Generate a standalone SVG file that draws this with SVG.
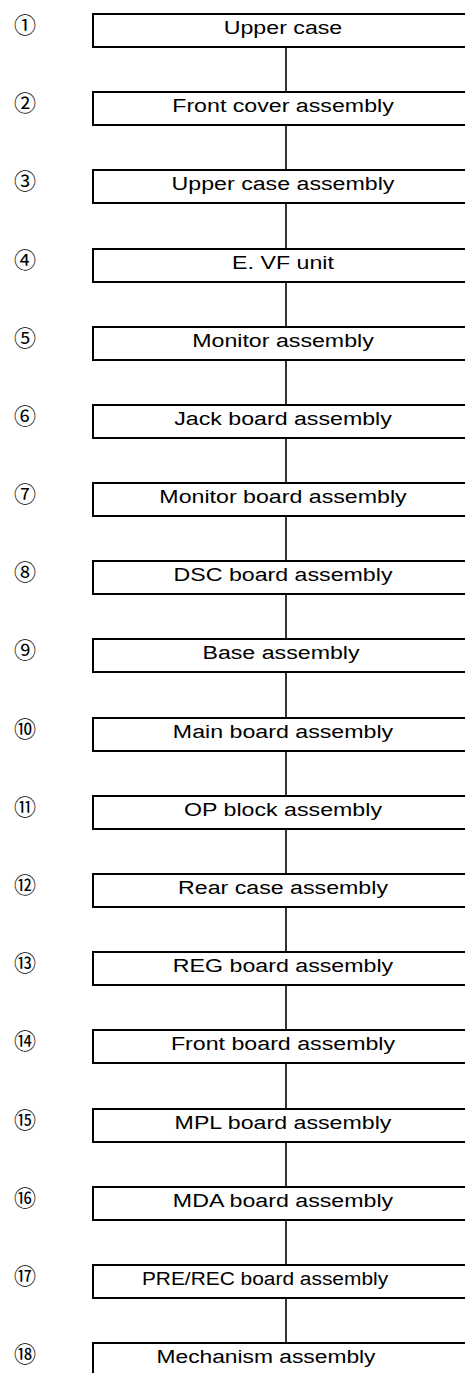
<svg xmlns="http://www.w3.org/2000/svg" width="465" height="1373" viewBox="0 0 465 1373">
<style>
.box{fill:#fff;stroke:#000;stroke-width:2}
.lbl{font-family:"Liberation Sans",Arial,sans-serif;font-size:19px;fill:#000;text-anchor:middle}
.num{font-family:"Noto Sans CJK JP","DejaVu Sans",sans-serif;font-size:22px;fill:#000;text-anchor:middle}
.con{stroke:#000;stroke-width:1.6;fill:none}
</style>
<rect width="465" height="1373" fill="#fff"/>
<g id="connectors">
<line class="con" x1="286" y1="47" x2="286" y2="92"/>
<line class="con" x1="286" y1="125" x2="286" y2="170"/>
<line class="con" x1="286" y1="203" x2="286" y2="249"/>
<line class="con" x1="286" y1="282" x2="286" y2="327"/>
<line class="con" x1="286" y1="360" x2="286" y2="405"/>
<line class="con" x1="286" y1="438" x2="286" y2="483"/>
<line class="con" x1="286" y1="516" x2="286" y2="561"/>
<line class="con" x1="286" y1="594" x2="286" y2="639"/>
<line class="con" x1="286" y1="672" x2="286" y2="718"/>
<line class="con" x1="286" y1="751" x2="286" y2="796"/>
<line class="con" x1="286" y1="829" x2="286" y2="874"/>
<line class="con" x1="286" y1="907" x2="286" y2="952"/>
<line class="con" x1="286" y1="985" x2="286" y2="1030"/>
<line class="con" x1="286" y1="1063" x2="286" y2="1109"/>
<line class="con" x1="286" y1="1142" x2="286" y2="1187"/>
<line class="con" x1="286" y1="1220" x2="286" y2="1265"/>
<line class="con" x1="286" y1="1298" x2="286" y2="1343" stroke-width="2.6"/>
</g>
<g id="n1" transform="translate(0,14)"><text class="num" x="25" y="19">①</text><rect class="box" x="93" y="0" width="380" height="33"/><text class="lbl" transform="translate(283,20) scale(1.22,1)">Upper case</text></g>
<g id="n2" transform="translate(0,92)"><text class="num" x="25" y="19">②</text><rect class="box" x="93" y="0" width="380" height="33"/><text class="lbl" transform="translate(283,20) scale(1.22,1)">Front cover assembly</text></g>
<g id="n3" transform="translate(0,170)"><text class="num" x="25" y="19">③</text><rect class="box" x="93" y="0" width="380" height="33"/><text class="lbl" transform="translate(283,20) scale(1.22,1)">Upper case assembly</text></g>
<g id="n4" transform="translate(0,249)"><text class="num" x="25" y="19">④</text><rect class="box" x="93" y="0" width="380" height="33"/><text class="lbl" transform="translate(283,20) scale(1.22,1)">E. VF unit</text></g>
<g id="n5" transform="translate(0,327)"><text class="num" x="25" y="19">⑤</text><rect class="box" x="93" y="0" width="380" height="33"/><text class="lbl" transform="translate(283,20) scale(1.22,1)">Monitor assembly</text></g>
<g id="n6" transform="translate(0,405)"><text class="num" x="25" y="19">⑥</text><rect class="box" x="93" y="0" width="380" height="33"/><text class="lbl" transform="translate(283,20) scale(1.22,1)">Jack board assembly</text></g>
<g id="n7" transform="translate(0,483)"><text class="num" x="25" y="19">⑦</text><rect class="box" x="93" y="0" width="380" height="33"/><text class="lbl" transform="translate(283,20) scale(1.22,1)">Monitor board assembly</text></g>
<g id="n8" transform="translate(0,561)"><text class="num" x="25" y="19">⑧</text><rect class="box" x="93" y="0" width="380" height="33"/><text class="lbl" transform="translate(283,20) scale(1.22,1)">DSC board assembly</text></g>
<g id="n9" transform="translate(0,639)"><text class="num" x="25" y="19">⑨</text><rect class="box" x="93" y="0" width="380" height="33"/><text class="lbl" transform="translate(281,20) scale(1.22,1)">Base assembly</text></g>
<g id="n10" transform="translate(0,718)"><text class="num" x="25" y="19">⑩</text><rect class="box" x="93" y="0" width="380" height="33"/><text class="lbl" transform="translate(283,20) scale(1.22,1)">Main board assembly</text></g>
<g id="n11" transform="translate(0,796)"><text class="num" x="25" y="19">⑪</text><rect class="box" x="93" y="0" width="380" height="33"/><text class="lbl" transform="translate(283,20) scale(1.22,1)">OP block assembly</text></g>
<g id="n12" transform="translate(0,874)"><text class="num" x="25" y="19">⑫</text><rect class="box" x="93" y="0" width="380" height="33"/><text class="lbl" transform="translate(283,20) scale(1.22,1)">Rear case assembly</text></g>
<g id="n13" transform="translate(0,952)"><text class="num" x="25" y="19">⑬</text><rect class="box" x="93" y="0" width="380" height="33"/><text class="lbl" transform="translate(283,20) scale(1.22,1)">REG board assembly</text></g>
<g id="n14" transform="translate(0,1030)"><text class="num" x="25" y="19">⑭</text><rect class="box" x="93" y="0" width="380" height="33"/><text class="lbl" transform="translate(283,20) scale(1.22,1)">Front board assembly</text></g>
<g id="n15" transform="translate(0,1109)"><text class="num" x="25" y="19">⑮</text><rect class="box" x="93" y="0" width="380" height="33"/><text class="lbl" transform="translate(283,20) scale(1.22,1)">MPL board assembly</text></g>
<g id="n16" transform="translate(0,1187)"><text class="num" x="25" y="19">⑯</text><rect class="box" x="93" y="0" width="380" height="33"/><text class="lbl" transform="translate(283,20) scale(1.22,1)">MDA board assembly</text></g>
<g id="n17" transform="translate(0,1265)"><text class="num" x="25" y="19">⑰</text><rect class="box" x="93" y="0" width="380" height="33"/><text class="lbl" transform="translate(265,20) scale(1.1,1)">PRE/REC board assembly</text></g>
<g id="n18" transform="translate(0,1343)"><text class="num" x="25" y="19">⑱</text><rect class="box" x="93" y="0" width="380" height="40" stroke-width="1.4"/><text class="lbl" transform="translate(266,20) scale(1.2,1)">Mechanism assembly</text></g>
</svg>
